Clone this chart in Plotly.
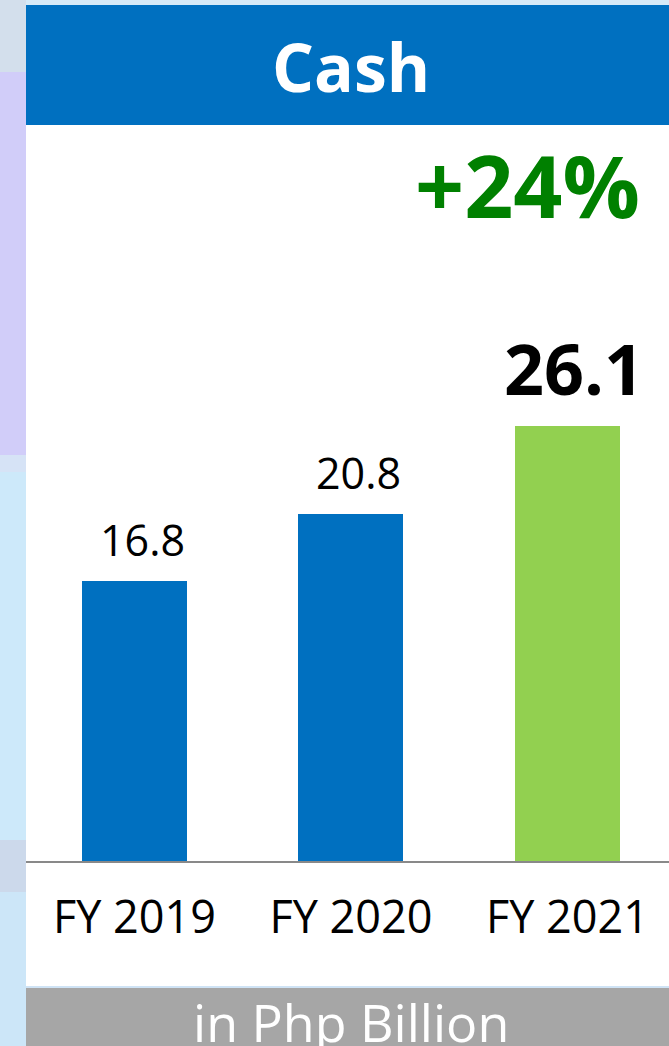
import plotly.graph_objects as go

categories = ["FY 2019", "FY 2020", "FY 2021"]
values = [16.8, 20.8, 26.1]
bar_colors = ["#0070C0", "#0070C0", "#92D050"]
label_texts = ["16.8", "20.8", "26.1"]
title_text = "Cash"
growth_text = "+24%"
unit_text = "in Php Billion"

W, H = 669, 1046
FONT = "Open Sans"

def py(pix):
    return 1 - pix / H

def px(pix):
    return pix / W

fig = go.Figure()
fig.add_trace(go.Bar(
    x=categories, y=values, marker=dict(color=bar_colors, line=dict(width=0)),
    width=0.485, hoverinfo="skip",
))

# bar value labels
for i, (c, v, t) in enumerate(zip(categories, values, label_texts)):
    last = i == len(categories) - 1
    fig.add_annotation(
        x=c, y=v, xref="x", yref="y", text=f"<b>{t}</b>" if last else t,
        showarrow=False, yanchor="middle", xanchor="center",
        yshift=58 if last else 42,
        xshift=7 if last else 8,
        font=dict(family=FONT, size=70 if last else 43, color="#000000"),
    )

shapes = []
# background left strip pieces
strip = [(0, 72, "#d3dfec"), (72, 455, "#d1cdf9"), (455, 472, "#d6e3f6"),
         (472, 840, "#cde9fa"), (840, 892, "#ccd9eb"), (892, 1046, "#cce6f8")]
for y0, y1, col in strip:
    shapes.append(dict(type="rect", xref="paper", yref="paper", x0=0, x1=px(26),
                       y0=py(y1), y1=py(y0), fillcolor=col, line=dict(width=0), layer="below"))
shapes.append(dict(type="rect", xref="paper", yref="paper", x0=px(26), x1=1,
                   y0=py(5), y1=1, fillcolor="#d6eaf8", line=dict(width=0), layer="below"))
# title bar
shapes.append(dict(type="rect", xref="paper", yref="paper", x0=px(26), x1=1,
                   y0=py(125), y1=py(5), fillcolor="#0070C0", line=dict(width=0), layer="below"))
# white panel
shapes.append(dict(type="rect", xref="paper", yref="paper", x0=px(26), x1=1,
                   y0=py(986), y1=py(125), fillcolor="#FFFFFF", line=dict(width=0), layer="below"))
# gap strip
shapes.append(dict(type="rect", xref="paper", yref="paper", x0=px(26), x1=1,
                   y0=py(988), y1=py(986), fillcolor="#cfe3f5", line=dict(width=0), layer="below"))
# gray footer
shapes.append(dict(type="rect", xref="paper", yref="paper", x0=px(26), x1=1,
                   y0=0, y1=py(988), fillcolor="#A6A6A6", line=dict(width=0), layer="below"))
fig.update_layout(shapes=shapes)

# title
fig.add_annotation(x=px(351), y=py(66), xref="paper", yref="paper", text=f"<b>{title_text}</b>",
                   showarrow=False, xanchor="center", yanchor="middle",
                   font=dict(family=FONT, size=66, color="#FFFFFF"))
# growth
fig.add_annotation(x=px(642), y=py(185), xref="paper", yref="paper", text=f"<b>{growth_text}</b>",
                   showarrow=False, xanchor="right", yanchor="middle",
                   font=dict(family=FONT, size=86, color="#008000"))
# unit footer
fig.add_annotation(x=px(351), y=py(1021), xref="paper", yref="paper", text=unit_text,
                   showarrow=False, xanchor="center", yanchor="middle",
                   font=dict(family=FONT, size=52, color="#FFFFFF"))

base = 861
top = 125
ymax = values[2] / ((base - 426) / (base - top))

fig.update_layout(
    width=W, height=H, margin=dict(l=0, r=0, t=0, b=0),
    paper_bgcolor="#cde9fa", plot_bgcolor="rgba(0,0,0,0)",
    showlegend=False,
    xaxis=dict(domain=[px(26), 1], range=[-0.501, 2.469], showgrid=False, zeroline=False,
               showline=True, linecolor="#898989", linewidth=2,
               tickfont=dict(family=FONT, size=45, color="#000000"),
               ticks="", ticklabelstandoff=16, fixedrange=True),
    yaxis=dict(domain=[py(base), py(top)], range=[0, ymax], visible=False, fixedrange=True),
    bargap=0,
)

fig.write_html("out.html", config={"displayModeBar": False},
               post_script="document.body.style.margin='0';document.body.style.padding='0';")
